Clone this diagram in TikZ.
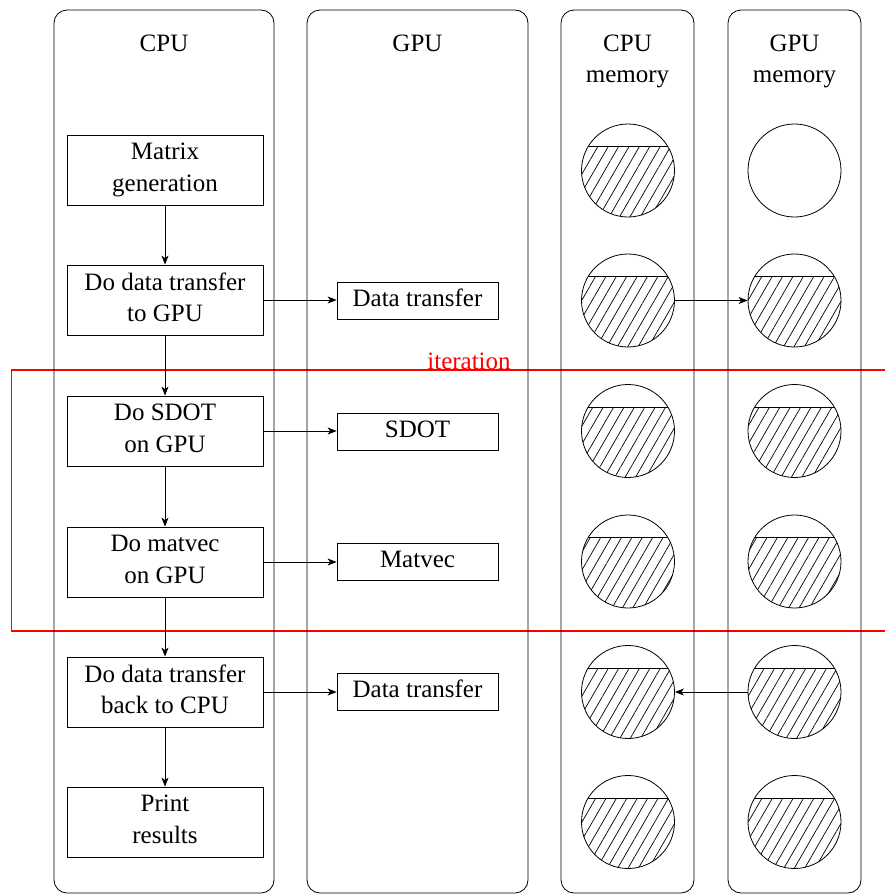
\documentclass[tikz,border=0pt]{standalone}
\usepackage{fontspec}
\setmainfont{LiberationSerif}[Extension=.ttf, UprightFont=*-Regular,
  BoldFont=*-Bold, ItalicFont=*-Italic, BoldItalicFont=*-BoldItalic]
\usetikzlibrary{arrows.meta,patterns.meta}

\tikzset{
  lane/.style={draw, rounded corners=13pt, line width=0.8pt},
  head/.style={anchor=north, inner sep=0pt, align=center},
  cpubox/.style={draw, line width=0.8pt, minimum width=196pt, minimum height=70pt,
                 align=center, inner sep=0pt, text depth=5.5pt},
  gpubox/.style={draw, line width=0.8pt, minimum width=161pt, minimum height=37pt,
                 inner sep=0pt, text height=17pt, text depth=5pt},
  mem/.style={draw, circle, line width=0.8pt, minimum size=93pt, inner sep=0pt},
  used/.style={mem, path picture={
      \fill[pattern={Lines[angle=60,distance=9pt,line width=0.7pt]}]
        (path picture bounding box.south west) rectangle
        ([yshift=24pt]path picture bounding box.east);
      \draw[line width=0.8pt] ([yshift=24pt]path picture bounding box.west) --
        ([yshift=24pt]path picture bounding box.east);}},
  flow/.style={-{Stealth[length=9pt,width=7pt,inset=2.5pt]}, line width=0.8pt},
  loopframe/.style={draw=red, line width=1.3pt},
}

\begin{document}
\begin{tikzpicture}[x=1pt, y=-1pt, font=\fontsize{25}{31.5}\selectfont]
\useasboundingbox (0,0) rectangle (885,894);

% iteration loop, drawn first so the lanes run over it
\draw[loopframe] (11.5,370) rectangle (927,631);
\node[red, anchor=base, inner sep=0pt] (iter) at (469,369) {iteration};

% four lanes
\draw[lane] (54,10) rectangle (274,893);
\draw[lane] (307,10) rectangle (528,893);
\draw[lane] (561,10) rectangle (694,893);
\draw[lane] (728,10) rectangle (861,893);

\node[head] (hcpu) at (164,34.5) {CPU};
\node[head] (hgpu) at (417.5,34.5) {GPU};
\node[head] (hcmem) at (627.5,34.5) {CPU\\memory};
\node[head] (hgmem) at (794.5,34.5) {GPU\\memory};

% host program steps
\node[cpubox] (c1) at (165,170) {Matrix\\generation};
\node[cpubox] (c2) at (165,300) {Do data transfer\\to GPU};
\node[cpubox] (c3) at (165,431) {Do SDOT\\on GPU};
\node[cpubox] (c4) at (165,562) {Do matvec\\on GPU};
\node[cpubox] (c5) at (165,692) {Do data transfer\\back to CPU};
\node[cpubox] (c6) at (165,822) {Print\\results};

% device operations
\node[gpubox] (g2) at (417.5,300.5) {Data transfer};
\node[gpubox] (g3) at (417.5,431.5) {SDOT};
\node[gpubox] (g4) at (417.5,561.5) {Matvec};
\node[gpubox] (g5) at (417.5,691.5) {Data transfer};

% memory states
\node[used] (m1) at (628,170.5) {};
\node[used] (m2) at (628,300.5) {};
\node[used] (m3) at (628,431) {};
\node[used] (m4) at (628,561.5) {};
\node[used] (m5) at (628,692) {};
\node[used] (m6) at (628,822) {};
\node[mem]  (n1) at (794.5,170.5) {};
\node[used] (n2) at (794.5,300.5) {};
\node[used] (n3) at (794.5,431) {};
\node[used] (n4) at (794.5,561.5) {};
\node[used] (n5) at (794.5,692) {};
\node[used] (n6) at (794.5,822) {};

% control flow
\draw[flow] (c1) -- (c2);
\draw[flow] (c2) -- (c3);
\draw[flow] (c3) -- (c4);
\draw[flow] (c4) -- (c5);
\draw[flow] (c5) -- (c6);
\draw[flow] (c2.east) -- (g2.west |- c2.east);
\draw[flow] (c3.east) -- (g3.west |- c3.east);
\draw[flow] (c4.east) -- (g4.west |- c4.east);
\draw[flow] (c5.east) -- (g5.west |- c5.east);
\draw[flow] (m2) -- (n2);
\draw[flow] (n5) -- (m5);
\end{tikzpicture}
\end{document}
